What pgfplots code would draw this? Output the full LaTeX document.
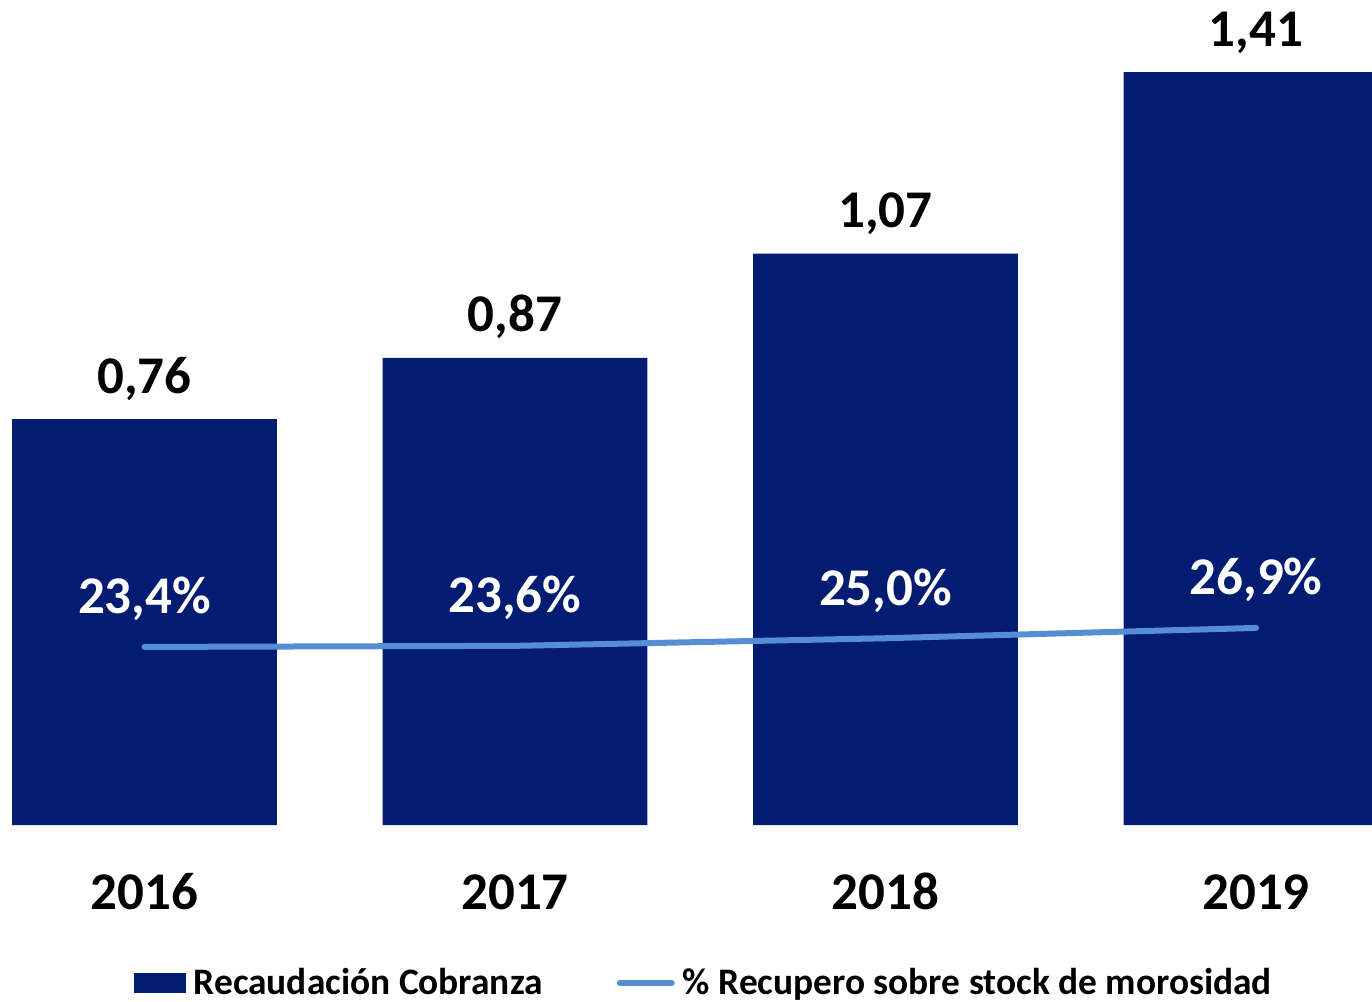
\documentclass[border=0pt]{standalone}
\usepackage{pgfplots}
\pgfplotsset{compat=1.18}
\usepackage{fontspec}
\setmainfont{Carlito}
\definecolor{navy}{RGB}{2,28,113}
\definecolor{lblue}{RGB}{85,142,213}
\begin{document}
\begin{tikzpicture}
\begin{axis}[
  at={(0pt,88.5pt)}, anchor=south west,
  width=686pt, height=412.5pt, scale only axis,
  xmin=-0.39, xmax=3.313, ymin=0, ymax=1.545,
  axis lines=none,
  ybar, bar width=0.715,
  xtick={0,1,2,3},
  xticklabels={2016,2017,2018,2019},
  clip=true,
  point meta=explicit symbolic,
  nodes near coords,
  nodes near coords style={anchor=base, yshift=13pt, font=\fontsize{26.5pt}{30pt}\selectfont\bfseries, text=black},
  legend style={at={(rel axis cs:0.5137,-0.1915)}, anchor=center, draw=none, fill=none,
     font=\fontsize{18.7pt}{22pt}\selectfont\bfseries, legend columns=2,
     /tikz/every odd column/.append style={column sep=2pt},
     /tikz/every even column/.append style={column sep=35pt}},
  legend cell align=left,
]
\addplot[fill=navy, draw=none,
  legend image code/.code={\fill[navy] (0pt,-5pt) rectangle (26pt,5pt);}]
  coordinates {(0,0.76) [0,76] (1,0.875) [0,87] (2,1.07) [1,07] (3,1.41) [1,41]};
\addlegendentry{Recaudación Cobranza}
\addlegendimage{line legend, lblue, line width=3pt, line cap=round,
  legend image code/.code={\path (0pt,0pt) -- (26pt,0pt); \draw[lblue, line width=3pt, line cap=round] (1.5pt,0pt) -- (24.5pt,0pt);}}
\addlegendentry{\% Recupero sobre stock de morosidad}
\end{axis}
\begin{axis}[
  at={(0pt,88.5pt)}, anchor=south west,
  width=686pt, height=412.5pt, scale only axis,
  xmin=-0.39, xmax=3.313, ymin=-9.38, ymax=142.5,
  axis lines=none,
  point meta=explicit symbolic,
  nodes near coords,
  nodes near coords style={anchor=base, yshift=16.5pt, font=\fontsize{26.5pt}{30pt}\selectfont\bfseries, text=white},
]
\addplot[lblue, line width=3pt, line cap=round, mark=none]
  coordinates {(0,23.4) [23,4\%] (1,23.6) [23,6\%] (2,25.0) [25,0\%] (3,26.9) [26,9\%]};
\end{axis}
\begin{axis}[
  at={(0pt,88.5pt)}, anchor=south west,
  width=686pt, height=412.5pt, scale only axis,
  xmin=-0.39, xmax=3.313, ymin=0, ymax=1.545,
  axis x line*=bottom, axis y line=none,
  x axis line style={draw=none},
  xtick={0,1,2,3}, xticklabels={2016,2017,2018,2019},
  major tick length=0pt,
  xticklabel style={anchor=base, yshift=-42.5pt, font=\fontsize{26.5pt}{30pt}\selectfont\bfseries},
]
\addplot[draw=none] coordinates {(0,0)};
\end{axis}
\pgfresetboundingbox
\useasboundingbox (0pt,0pt) rectangle (686pt,501pt);
\end{tikzpicture}
\end{document}
